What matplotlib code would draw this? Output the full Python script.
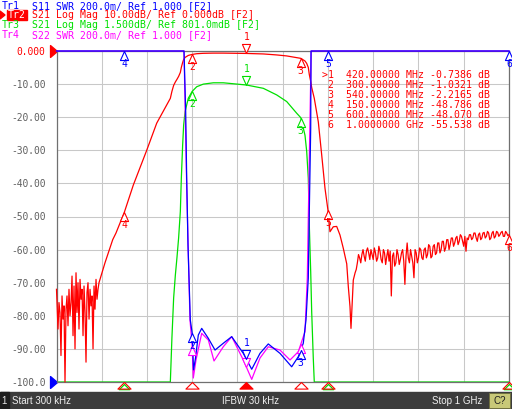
import numpy as np
import matplotlib.pyplot as plt
from matplotlib.path import Path
from matplotlib.patches import Rectangle, Polygon
import matplotlib.transforms as mtransforms

W, H = 512, 409
MONO = "DejaVu Sans Mono"

# --- data (freq in MHz) ---
# S21, shared by Tr2 (10 dB/div) and Tr3 (1.5 dB/div), up to 656 MHz
s21_freq = [0.3, 3.6, 5.8, 8.0, 10.2, 12.5, 14.7, 16.9, 19.1, 21.3, 23.5, 25.7, 27.9, 30.1,
            32.4, 34.6, 36.8, 39.0, 41.2, 43.4, 45.6, 47.8, 50.0, 52.3, 54.5, 56.7, 58.9,
            61.1, 63.3, 65.5, 67.7, 69.9, 72.2, 74.4, 76.6, 78.8, 81.0, 83.2, 85.4, 87.6,
            89.8, 92.0, 94.2, 96.4,
            107.4, 118.4, 124.5, 131.7, 150.0, 170.0, 199.6, 221.7,
            251.8, 255.3, 259.1, 262.9, 266.4, 270.1, 273.9, 276.1, 279.0, 281.2, 284.4,
            291.5, 300.0, 310.0, 324.6, 346.7, 368.8, 420.0, 457.2, 486.8, 508.9, 531.0,
            540.0, 549.3, 553.1, 556.6, 558.8, 561.9, 564.1, 567.6, 569.8,
            578.7, 586.2, 593.5, 600.0, 604.5, 611.8, 619.3, 626.6, 633.9, 641.5, 645.0,
            648.7, 650.9, 653.8, 656.0]
s21_db = [-72, -84, -76, -79, -92, -74, -81, -77, -100, -78, -74, -83, -72, -80,
          -76, -68, -86, -71, -90, -67, -79, -70, -84, -69, -75, -72, -86,
          -71, -79, -94, -73, -70, -81, -72, -77, -74, -90, -71, -78, -69,
          -75, -72, -70, -69,
          -64, -59.5, -57, -55, -48.79, -40.5, -30, -21.8,
          -14.3, -12.2, -10.39, -9.35, -8.57, -7.67, -6.47, -4.96, -3.46, -2.56, -1.94,
          -1.34, -1.03, -0.82, -0.70, -0.64, -0.64, -0.74, -0.89, -1.19, -1.49, -2.02,
          -2.22, -3.02, -3.76, -4.97, -7.09, -9.20, -11.02, -13.12, -14.3,
          -21.4, -31.4, -41.5, -48.07, -54.6, -53.1, -53.0, -55.6, -59.6, -64.3, -71.2,
          -77.2, -83.8, -75.2, -69.2]

# S21 noise floor above the stop band, two interleaved sets of readings
noise_a_freq = [660, 665, 670, 675, 680, 685, 690, 695, 700, 705, 710, 715, 720, 725, 730,
                735, 740, 745, 750, 755, 760, 765, 770, 775, 780, 785, 790, 795, 800, 805,
                810, 815, 820, 825, 830, 835, 840, 845, 850, 855, 860, 865, 870, 875, 880,
                885, 890, 895, 900, 905, 910, 915, 920, 925, 930, 935, 940, 945, 950, 955,
                960, 965, 970, 975, 980, 985, 990, 995, 1000]
noise_a_db = [-67, -64, -62.5, -61.5, -62, -60.5, -61, -60, -63, -61, -62.5, -60.5, -64, -61,
              -62, -63.5, -74, -61, -64, -61.5, -63, -60, -70.5, -58, -64, -62, -68.5, -61,
              -62.5, -60, -63, -59.5, -61.5, -59, -62, -58.5, -61, -58, -60, -57.5, -59.5,
              -57, -58.5, -56.5, -58, -56, -57.5, -56, -59, -60.5, -57, -55.5, -56.5, -55,
              -57.5, -55, -56.5, -54.8, -56, -55, -56.5, -54.5, -56, -54.8, -55.5, -54.5,
              -56, -55, -55.5]
noise_b_freq = [662.5, 667.5, 672.5, 677.5, 682.5, 687.5, 692.5, 697.5, 702.5, 707.5, 712.5,
                717.5, 722.5, 727.5, 732.5, 737.5, 742.5, 747.5, 752.5, 757.5, 762.5, 767.5,
                772.5, 777.5, 782.5, 787.5, 792.5, 797.5, 802.5, 807.5, 812.5, 817.5, 822.5,
                827.5, 832.5, 837.5, 842.5, 847.5, 852.5, 857.5, 862.5, 867.5, 872.5, 877.5,
                882.5, 887.5, 892.5, 897.5, 902.5, 907.5, 912.5, 917.5, 922.5, 927.5, 932.5,
                937.5, 942.5, 947.5, 952.5, 957.5, 962.5, 967.5, 972.5, 977.5, 982.5, 987.5,
                992.5, 997.5]
noise_b_db = [-66, -61.5, -64, -60, -63.5, -59.5, -63, -61.5, -59.5, -63.5, -59, -63, -60,
              -64.5, -60, -60.5, -62, -65, -60, -64.5, -61, -63.5, -62, -62.5, -60, -64, -60,
              -64, -59.5, -62.5, -60, -62.5, -58.5, -62.5, -59, -61.5, -58, -61, -57.5,
              -60.5, -57, -60, -56.5, -59, -56.5, -58.5, -55.5, -57.5, -56, -56.5, -55.5,
              -57, -55, -56.5, -55.5, -57, -55, -56.5, -54.5, -57, -55, -56.5, -54.5, -56,
              -54.8, -56, -54.5, -55.8]

# S11 SWR (Tr1) and S22 SWR (Tr4)
s11_freq = [0.3, 282.0, 285.7, 287.9, 290.8, 295.9, 300.0, 303.0, 307.4, 313.6, 321.1, 335.7,
            350.5, 368.8, 387.4, 413.0, 431.6, 449.9, 468.2, 494.1, 519.9, 534.5, 545.5,
            551.5, 556.6, 558.8, 561.9, 562.6, 1000]
s11_swr = [3.5, 3.0, 2.633, 2.231, 1.828, 1.375, 1.296, 1.073, 1.145, 1.284, 1.324, 1.264,
           1.193, 1.234, 1.274, 1.173, 1.077, 1.173, 1.230, 1.173, 1.092, 1.153, 1.234,
           1.375, 1.628, 2.029, 2.533, 3.0, 3.5]
s22_freq = [0.3, 282.0, 287.1, 291.3, 295.2, 300.0, 302.5, 308.5, 321.1, 335.7, 348.3, 368.8,
            387.4, 413.0, 431.6, 449.9, 468.2, 494.1, 516.2, 527.2, 534.5, 549.3, 554.4,
            558.1, 561.9, 563.0, 1000]
s22_swr = [3.5, 3.0, 2.293, 1.798, 1.375, 1.22, 1.024, 1.133, 1.294, 1.254, 1.127, 1.213,
           1.274, 1.133, 1.016, 1.145, 1.213, 1.193, 1.133, 1.163, 1.183, 1.304, 1.628,
           2.233, 2.837, 3.0, 3.5]

marker_freq = [420, 300, 540, 150, 600, 1000]
readout = [">1  420.00000 MHz -0.7386 dB",
           " 2  300.00000 MHz -1.0321 dB",
           " 3  540.00000 MHz -2.2165 dB",
           " 4  150.00000 MHz -48.786 dB",
           " 5  600.00000 MHz -48.070 dB",
           " 6  1.0000000 GHz -55.538 dB"]

header = [("Tr1", "S11 SWR 200.0m/ Ref 1.000 [F2]"),
          ("Tr2", "S21 Log Mag 10.00dB/ Ref 0.000dB [F2]"),
          ("Tr3", "S21 Log Mag 1.500dB/ Ref 801.0mdB [F2]"),
          ("Tr4", "S22 SWR 200.0m/ Ref 1.000 [F2]")]
y_labels = ["-100.0", "-90.00", "-80.00", "-70.00", "-60.00", "-50.00",
            "-40.00", "-30.00", "-20.00", "-10.00", "0.000"]

RED, BLUE, GREEN, MAG = "#ff0000", "#0000ff", "#00e000", "#ff00ff"

# full S21 sweep
nf = np.concatenate([noise_a_freq, noise_b_freq])
nd = np.concatenate([noise_a_db, noise_b_db])
order = np.argsort(nf)
s21_f = np.concatenate([s21_freq, nf[order]])
s21_v = np.concatenate([s21_db, nd[order]])


def to_grid(vals, ref, per_div, ref_pos):
    g = ref_pos + (np.asarray(vals, float) - ref) / per_div * 10
    return np.clip(g, -100, 0)


def fx(x):
    return x / W


def fy(y):
    return 1 - y / H


fig = plt.figure(figsize=(W / 100, H / 100), dpi=100)
fig.patch.set_facecolor("white")
ax = fig.add_axes([fx(56.5), fy(382), (509 - 56.5) / W, 331 / H])
ax.set_xlim(0.3, 1000)
ax.set_ylim(-100, 0)
ax.set_xticks(np.linspace(0.3, 1000, 11))
ax.set_yticks(np.arange(-100, 1, 10))
ax.set_yticklabels(y_labels, family=MONO, fontsize=6.9, color="#606060")
ax.get_yticklabels()[-1].set_color(RED)
ax.tick_params(length=0, labelbottom=False, pad=8)
ax.grid(color="#c8c8c8", lw=0.75)
for sp in ax.spines.values():
    sp.set_color("#707070")
    sp.set_linewidth(0.9)

# traces
traces = [
    (s21_f, to_grid(s21_v, 0.801, 1.5, 0), GREEN, 2),
    (s21_f, to_grid(s21_v, 0.0, 10.0, 0), RED, 3),
    (s22_freq, to_grid(s22_swr, 1.0, 0.2, -100), MAG, 4),
    (s11_freq, to_grid(s11_swr, 1.0, 0.2, -100), BLUE, 5),
]
for f, g, c, z in traces:
    ax.plot(f, g, color=c, lw=0.9, zorder=z, clip_on=False)

up_tri = Path([(0, 0), (-0.45, -1), (0.45, -1), (0, 0)], closed=True)
down_tri = Path([(0, 0), (-0.45, 1), (0.45, 1), (0, 0)], closed=True)


def draw_marker(x, gy, num, color, active, z, label=True):
    ax.plot([x], [gy], marker=down_tri if active else up_tri, ms=13, mfc="white",
            mec=color, mew=0.8, clip_on=False, zorder=z + 10)
    if label:
        off = 16 if active else -13
        ax.annotate(str(num), (x, gy), xytext=(0, off), textcoords="offset pixels",
                    ha="center", va="center", color=color, family=MONO, fontsize=7,
                    annotation_clip=False, zorder=z + 10)


def trace_markers(f, g, color, nums, z, label=True):
    for n in nums:
        mf = marker_freq[n - 1]
        gy = float(np.interp(mf, f, g))
        draw_marker(mf, gy, n, color, n == 1, z, label)


trace_markers(traces[0][0], traces[0][1], GREEN, [1, 2, 3], 2)
trace_markers(traces[1][0], traces[1][1], RED, [1, 2, 3, 4, 5, 6], 3)
trace_markers(s22_freq, traces[2][1], MAG, [1, 2, 3], 4, label=False)
trace_markers(s11_freq, traces[3][1], BLUE, [1, 2, 3, 4, 5, 6], 5)

# marker position strip under the graticule
strip = mtransforms.blended_transform_factory(ax.transData, ax.transAxes)
tri_up = Path([(0, 0), (-1, -1), (1, -1), (0, 0)], closed=True)
for n, mf in enumerate(marker_freq, start=1):
    if n in (4, 5, 6):
        ax.plot([mf], [-2 / 331], marker=tri_up, ms=7.5, mfc="none", mec=GREEN, mew=0.9,
                transform=strip, clip_on=False, zorder=20)
    ax.plot([mf], [-0.3 / 331], marker=tri_up, ms=9.5, mfc=RED if n == 1 else "none",
            mec=RED, mew=0.8, transform=strip, clip_on=False, zorder=21)

# reference position arrows
ref_tri = Path([(0, 0), (-1, 0.85), (-1, -0.85), (0, 0)], closed=True)
ax.plot([0], [1], marker=ref_tri, ms=10, color=RED, transform=ax.transAxes, clip_on=False)
ax.plot([0], [0], marker=ref_tri, ms=10, color=BLUE, transform=ax.transAxes, clip_on=False)

# readout table
for i, row in enumerate(readout):
    fig.text(fx(322.5), fy(75 + i * 9.9), row, family=MONO, fontsize=7.1, color=RED,
             ha="left", va="center")

# header lines
hcolors = [BLUE, RED, GREEN, MAG]
for i, ((tr, rest), c) in enumerate(zip(header, hcolors)):
    y = fy(5.6 + i * 9.7)
    if tr == "Tr2":
        fig.add_artist(Rectangle((fx(7), fy(20)), 20 / W, 10 / H, color=RED,
                                 transform=fig.transFigure))
        fig.add_artist(Polygon([(fx(0), fy(11)), (fx(5), fy(15)), (fx(0), fy(19))],
                               closed=True, color=RED, transform=fig.transFigure))
        fig.text(fx(8), y, tr, family=MONO, fontsize=7.1, color="white", va="center")
    else:
        fig.text(fx(2), y, tr, family=MONO, fontsize=7.1, color=c, va="center")
    fig.text(fx(31.5), y, rest, family=MONO, fontsize=7.1, color=c, va="center")

# status bar
fig.add_artist(Rectangle((0, 0), 1, 17 / H, color="#3c3c3c", transform=fig.transFigure))
fig.add_artist(Rectangle((0, 0), 9 / W, 17 / H, color="#1e1e1e", transform=fig.transFigure))
fig.text(fx(1.5), fy(400.5), "1", color="#e8e8e8", fontsize=7, family="Liberation Sans",
         va="center")
fig.text(fx(12), fy(400.5), "Start 300 kHz", color="#f0f0f0", fontsize=7,
         family="Liberation Sans", va="center")
fig.text(fx(250.5), fy(400.5), "IFBW 30 kHz", color="#f0f0f0", fontsize=7,
         family="Liberation Sans", va="center", ha="center")
fig.text(fx(482), fy(400.5), "Stop 1 GHz", color="#f0f0f0", fontsize=7,
         family="Liberation Sans", va="center", ha="right")
fig.add_artist(Rectangle((fx(489), fy(408)), 21 / W, 15 / H, facecolor="#c8c878",
                         edgecolor="#707040", lw=0.7, transform=fig.transFigure))
fig.text(fx(499.5), fy(400.5), "C?", color="#202020", fontsize=7,
         family="Liberation Sans", va="center", ha="center")

fig.savefig("out.png", dpi=100)
